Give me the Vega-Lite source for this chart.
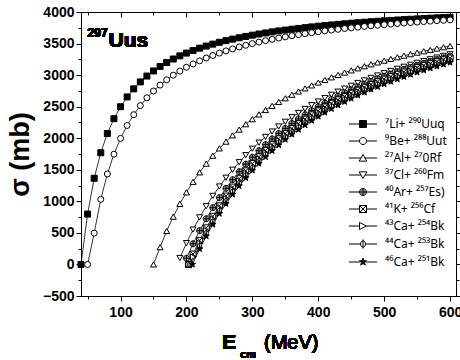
{
"$schema": "https://vega.github.io/schema/vega-lite/v6.json",
"width": 375, "height": 284,
"autosize": {"type": "none"},
"padding": {"left": 81, "top": 12, "right": 4, "bottom": 64},
"background": "white",
"config": {"view": {"stroke": "black", "strokeWidth": 1}, "font": "Liberation Sans"},
"data": {"values": [
{"s":"Li","e":40,"v":0},{"s":"Li","e":50,"v":798},{"s":"Li","e":60,"v":1365},{"s":"Li","e":70,"v":1770},{"s":"Li","e":80,"v":2074},{"s":"Li","e":90,"v":2310},{"s":"Li","e":100,"v":2499},{"s":"Li","e":110,"v":2654},{"s":"Li","e":120,"v":2782},{"s":"Li","e":130,"v":2892},{"s":"Li","e":140,"v":2985},{"s":"Li","e":150,"v":3066},{"s":"Li","e":160,"v":3137},{"s":"Li","e":170,"v":3199},{"s":"Li","e":180,"v":3255},{"s":"Li","e":190,"v":3305},{"s":"Li","e":200,"v":3349},{"s":"Li","e":210,"v":3390},{"s":"Li","e":220,"v":3427},{"s":"Li","e":230,"v":3460},{"s":"Li","e":240,"v":3491},{"s":"Li","e":250,"v":3520},{"s":"Li","e":260,"v":3546},{"s":"Li","e":270,"v":3570},{"s":"Li","e":280,"v":3592},{"s":"Li","e":290,"v":3613},{"s":"Li","e":300,"v":3633},{"s":"Li","e":310,"v":3651},{"s":"Li","e":320,"v":3668},{"s":"Li","e":330,"v":3685},{"s":"Li","e":340,"v":3700},{"s":"Li","e":350,"v":3714},{"s":"Li","e":360,"v":3727},{"s":"Li","e":370,"v":3740},{"s":"Li","e":380,"v":3752},{"s":"Li","e":390,"v":3764},{"s":"Li","e":400,"v":3775},{"s":"Li","e":410,"v":3785},{"s":"Li","e":420,"v":3795},{"s":"Li","e":430,"v":3804},{"s":"Li","e":440,"v":3813},{"s":"Li","e":450,"v":3822},{"s":"Li","e":460,"v":3830},{"s":"Li","e":470,"v":3838},{"s":"Li","e":480,"v":3846},{"s":"Li","e":490,"v":3853},{"s":"Li","e":500,"v":3860},{"s":"Li","e":510,"v":3866},{"s":"Li","e":520,"v":3873},{"s":"Li","e":530,"v":3879},{"s":"Li","e":540,"v":3885},{"s":"Li","e":550,"v":3891},{"s":"Li","e":560,"v":3896},{"s":"Li","e":570,"v":3902},{"s":"Li","e":580,"v":3907},{"s":"Li","e":590,"v":3912},{"s":"Li","e":600,"v":3916},
{"s":"Be","e":50,"v":0},{"s":"Be","e":60,"v":496},{"s":"Be","e":70,"v":1032},{"s":"Be","e":80,"v":1434},{"s":"Be","e":90,"v":1747},{"s":"Be","e":100,"v":1997},{"s":"Be","e":110,"v":2202},{"s":"Be","e":120,"v":2373},{"s":"Be","e":130,"v":2517},{"s":"Be","e":140,"v":2641},{"s":"Be","e":150,"v":2748},{"s":"Be","e":160,"v":2842},{"s":"Be","e":170,"v":2925},{"s":"Be","e":180,"v":2999},{"s":"Be","e":190,"v":3064},{"s":"Be","e":200,"v":3124},{"s":"Be","e":210,"v":3177},{"s":"Be","e":220,"v":3226},{"s":"Be","e":230,"v":3271},{"s":"Be","e":240,"v":3311},{"s":"Be","e":250,"v":3349},{"s":"Be","e":260,"v":3384},{"s":"Be","e":270,"v":3416},{"s":"Be","e":280,"v":3446},{"s":"Be","e":290,"v":3473},{"s":"Be","e":300,"v":3499},{"s":"Be","e":310,"v":3523},{"s":"Be","e":320,"v":3546},{"s":"Be","e":330,"v":3567},{"s":"Be","e":340,"v":3587},{"s":"Be","e":350,"v":3606},{"s":"Be","e":360,"v":3624},{"s":"Be","e":370,"v":3641},{"s":"Be","e":380,"v":3657},{"s":"Be","e":390,"v":3672},{"s":"Be","e":400,"v":3687},{"s":"Be","e":410,"v":3701},{"s":"Be","e":420,"v":3714},{"s":"Be","e":430,"v":3726},{"s":"Be","e":440,"v":3738},{"s":"Be","e":450,"v":3749},{"s":"Be","e":460,"v":3760},{"s":"Be","e":470,"v":3771},{"s":"Be","e":480,"v":3781},{"s":"Be","e":490,"v":3790},{"s":"Be","e":500,"v":3799},{"s":"Be","e":510,"v":3808},{"s":"Be","e":520,"v":3817},{"s":"Be","e":530,"v":3825},{"s":"Be","e":540,"v":3833},{"s":"Be","e":550,"v":3840},{"s":"Be","e":560,"v":3848},{"s":"Be","e":570,"v":3855},{"s":"Be","e":580,"v":3862},{"s":"Be","e":590,"v":3868},{"s":"Be","e":600,"v":3875},
{"s":"Al","e":150,"v":0},{"s":"Al","e":160,"v":274},{"s":"Al","e":170,"v":530},{"s":"Al","e":180,"v":757},{"s":"Al","e":190,"v":960},{"s":"Al","e":200,"v":1143},{"s":"Al","e":210,"v":1309},{"s":"Al","e":220,"v":1459},{"s":"Al","e":230,"v":1597},{"s":"Al","e":240,"v":1723},{"s":"Al","e":250,"v":1839},{"s":"Al","e":260,"v":1946},{"s":"Al","e":270,"v":2045},{"s":"Al","e":280,"v":2137},{"s":"Al","e":290,"v":2222},{"s":"Al","e":300,"v":2302},{"s":"Al","e":310,"v":2377},{"s":"Al","e":320,"v":2447},{"s":"Al","e":330,"v":2513},{"s":"Al","e":340,"v":2575},{"s":"Al","e":350,"v":2633},{"s":"Al","e":360,"v":2689},{"s":"Al","e":370,"v":2741},{"s":"Al","e":380,"v":2790},{"s":"Al","e":390,"v":2837},{"s":"Al","e":400,"v":2882},{"s":"Al","e":410,"v":2924},{"s":"Al","e":420,"v":2965},{"s":"Al","e":430,"v":3003},{"s":"Al","e":440,"v":3040},{"s":"Al","e":450,"v":3075},{"s":"Al","e":460,"v":3108},{"s":"Al","e":470,"v":3141},{"s":"Al","e":480,"v":3171},{"s":"Al","e":490,"v":3201},{"s":"Al","e":500,"v":3229},{"s":"Al","e":510,"v":3257},{"s":"Al","e":520,"v":3283},{"s":"Al","e":530,"v":3308},{"s":"Al","e":540,"v":3332},{"s":"Al","e":550,"v":3356},{"s":"Al","e":560,"v":3378},{"s":"Al","e":570,"v":3400},{"s":"Al","e":580,"v":3421},{"s":"Al","e":590,"v":3442},{"s":"Al","e":600,"v":3461},
{"s":"Cl","e":190,"v":102},{"s":"Cl","e":200,"v":338},{"s":"Cl","e":210,"v":552},{"s":"Cl","e":220,"v":746},{"s":"Cl","e":230,"v":923},{"s":"Cl","e":240,"v":1086},{"s":"Cl","e":250,"v":1235},{"s":"Cl","e":260,"v":1374},{"s":"Cl","e":270,"v":1501},{"s":"Cl","e":280,"v":1620},{"s":"Cl","e":290,"v":1731},{"s":"Cl","e":300,"v":1834},{"s":"Cl","e":310,"v":1930},{"s":"Cl","e":320,"v":2021},{"s":"Cl","e":330,"v":2106},{"s":"Cl","e":340,"v":2186},{"s":"Cl","e":350,"v":2261},{"s":"Cl","e":360,"v":2333},{"s":"Cl","e":370,"v":2400},{"s":"Cl","e":380,"v":2464},{"s":"Cl","e":390,"v":2524},{"s":"Cl","e":400,"v":2582},{"s":"Cl","e":410,"v":2637},{"s":"Cl","e":420,"v":2689},{"s":"Cl","e":430,"v":2738},{"s":"Cl","e":440,"v":2786},{"s":"Cl","e":450,"v":2831},{"s":"Cl","e":460,"v":2875},{"s":"Cl","e":470,"v":2916},{"s":"Cl","e":480,"v":2956},{"s":"Cl","e":490,"v":2994},{"s":"Cl","e":500,"v":3031},{"s":"Cl","e":510,"v":3066},{"s":"Cl","e":520,"v":3100},{"s":"Cl","e":530,"v":3132},{"s":"Cl","e":540,"v":3164},{"s":"Cl","e":550,"v":3194},{"s":"Cl","e":560,"v":3223},{"s":"Cl","e":570,"v":3251},{"s":"Cl","e":580,"v":3278},{"s":"Cl","e":590,"v":3305},{"s":"Cl","e":600,"v":3330},
{"s":"Ar","e":200,"v":98},{"s":"Ar","e":210,"v":327},{"s":"Ar","e":220,"v":535},{"s":"Ar","e":230,"v":724},{"s":"Ar","e":240,"v":899},{"s":"Ar","e":250,"v":1059},{"s":"Ar","e":260,"v":1206},{"s":"Ar","e":270,"v":1343},{"s":"Ar","e":280,"v":1470},{"s":"Ar","e":290,"v":1589},{"s":"Ar","e":300,"v":1699},{"s":"Ar","e":310,"v":1802},{"s":"Ar","e":320,"v":1899},{"s":"Ar","e":330,"v":1990},{"s":"Ar","e":340,"v":2076},{"s":"Ar","e":350,"v":2156},{"s":"Ar","e":360,"v":2233},{"s":"Ar","e":370,"v":2305},{"s":"Ar","e":380,"v":2373},{"s":"Ar","e":390,"v":2438},{"s":"Ar","e":400,"v":2500},{"s":"Ar","e":410,"v":2558},{"s":"Ar","e":420,"v":2614},{"s":"Ar","e":430,"v":2667},{"s":"Ar","e":440,"v":2718},{"s":"Ar","e":450,"v":2766},{"s":"Ar","e":460,"v":2813},{"s":"Ar","e":470,"v":2857},{"s":"Ar","e":480,"v":2900},{"s":"Ar","e":490,"v":2941},{"s":"Ar","e":500,"v":2980},{"s":"Ar","e":510,"v":3017},{"s":"Ar","e":520,"v":3054},{"s":"Ar","e":530,"v":3089},{"s":"Ar","e":540,"v":3122},{"s":"Ar","e":550,"v":3154},{"s":"Ar","e":560,"v":3186},{"s":"Ar","e":570,"v":3216},{"s":"Ar","e":580,"v":3245},{"s":"Ar","e":590,"v":3273},{"s":"Ar","e":600,"v":3300},
{"s":"K","e":203,"v":0},{"s":"K","e":210,"v":165},{"s":"K","e":220,"v":382},{"s":"K","e":230,"v":580},{"s":"K","e":240,"v":762},{"s":"K","e":250,"v":929},{"s":"K","e":260,"v":1083},{"s":"K","e":270,"v":1226},{"s":"K","e":280,"v":1359},{"s":"K","e":290,"v":1483},{"s":"K","e":300,"v":1598},{"s":"K","e":310,"v":1706},{"s":"K","e":320,"v":1807},{"s":"K","e":330,"v":1902},{"s":"K","e":340,"v":1991},{"s":"K","e":350,"v":2076},{"s":"K","e":360,"v":2155},{"s":"K","e":370,"v":2231},{"s":"K","e":380,"v":2302},{"s":"K","e":390,"v":2370},{"s":"K","e":400,"v":2434},{"s":"K","e":410,"v":2495},{"s":"K","e":420,"v":2553},{"s":"K","e":430,"v":2609},{"s":"K","e":440,"v":2662},{"s":"K","e":450,"v":2713},{"s":"K","e":460,"v":2761},{"s":"K","e":470,"v":2807},{"s":"K","e":480,"v":2852},{"s":"K","e":490,"v":2895},{"s":"K","e":500,"v":2936},{"s":"K","e":510,"v":2975},{"s":"K","e":520,"v":3013},{"s":"K","e":530,"v":3049},{"s":"K","e":540,"v":3084},{"s":"K","e":550,"v":3118},{"s":"K","e":560,"v":3151},{"s":"K","e":570,"v":3182},{"s":"K","e":580,"v":3212},{"s":"K","e":590,"v":3242},{"s":"K","e":600,"v":3270},
{"s":"Ca43","e":205,"v":0},{"s":"Ca43","e":210,"v":118},{"s":"Ca43","e":220,"v":337},{"s":"Ca43","e":230,"v":537},{"s":"Ca43","e":240,"v":720},{"s":"Ca43","e":250,"v":889},{"s":"Ca43","e":260,"v":1044},{"s":"Ca43","e":270,"v":1189},{"s":"Ca43","e":280,"v":1322},{"s":"Ca43","e":290,"v":1447},{"s":"Ca43","e":300,"v":1563},{"s":"Ca43","e":310,"v":1672},{"s":"Ca43","e":320,"v":1774},{"s":"Ca43","e":330,"v":1870},{"s":"Ca43","e":340,"v":1960},{"s":"Ca43","e":350,"v":2045},{"s":"Ca43","e":360,"v":2126},{"s":"Ca43","e":370,"v":2202},{"s":"Ca43","e":380,"v":2274},{"s":"Ca43","e":390,"v":2342},{"s":"Ca43","e":400,"v":2407},{"s":"Ca43","e":410,"v":2468},{"s":"Ca43","e":420,"v":2527},{"s":"Ca43","e":430,"v":2583},{"s":"Ca43","e":440,"v":2637},{"s":"Ca43","e":450,"v":2688},{"s":"Ca43","e":460,"v":2737},{"s":"Ca43","e":470,"v":2784},{"s":"Ca43","e":480,"v":2828},{"s":"Ca43","e":490,"v":2872},{"s":"Ca43","e":500,"v":2913},{"s":"Ca43","e":510,"v":2953},{"s":"Ca43","e":520,"v":2991},{"s":"Ca43","e":530,"v":3027},{"s":"Ca43","e":540,"v":3063},{"s":"Ca43","e":550,"v":3097},{"s":"Ca43","e":560,"v":3130},{"s":"Ca43","e":570,"v":3161},{"s":"Ca43","e":580,"v":3192},{"s":"Ca43","e":590,"v":3222},{"s":"Ca43","e":600,"v":3250},
{"s":"Ca44","e":207,"v":0},{"s":"Ca44","e":220,"v":291},{"s":"Ca44","e":230,"v":493},{"s":"Ca44","e":240,"v":678},{"s":"Ca44","e":250,"v":848},{"s":"Ca44","e":260,"v":1005},{"s":"Ca44","e":270,"v":1151},{"s":"Ca44","e":280,"v":1286},{"s":"Ca44","e":290,"v":1411},{"s":"Ca44","e":300,"v":1529},{"s":"Ca44","e":310,"v":1638},{"s":"Ca44","e":320,"v":1741},{"s":"Ca44","e":330,"v":1838},{"s":"Ca44","e":340,"v":1929},{"s":"Ca44","e":350,"v":2015},{"s":"Ca44","e":360,"v":2096},{"s":"Ca44","e":370,"v":2172},{"s":"Ca44","e":380,"v":2245},{"s":"Ca44","e":390,"v":2314},{"s":"Ca44","e":400,"v":2379},{"s":"Ca44","e":410,"v":2441},{"s":"Ca44","e":420,"v":2501},{"s":"Ca44","e":430,"v":2557},{"s":"Ca44","e":440,"v":2611},{"s":"Ca44","e":450,"v":2663},{"s":"Ca44","e":460,"v":2712},{"s":"Ca44","e":470,"v":2759},{"s":"Ca44","e":480,"v":2805},{"s":"Ca44","e":490,"v":2848},{"s":"Ca44","e":500,"v":2890},{"s":"Ca44","e":510,"v":2930},{"s":"Ca44","e":520,"v":2968},{"s":"Ca44","e":530,"v":3005},{"s":"Ca44","e":540,"v":3041},{"s":"Ca44","e":550,"v":3075},{"s":"Ca44","e":560,"v":3108},{"s":"Ca44","e":570,"v":3140},{"s":"Ca44","e":580,"v":3171},{"s":"Ca44","e":590,"v":3201},{"s":"Ca44","e":600,"v":3230},
{"s":"Ca46","e":209,"v":0},{"s":"Ca46","e":220,"v":246},{"s":"Ca46","e":230,"v":448},{"s":"Ca46","e":240,"v":634},{"s":"Ca46","e":250,"v":805},{"s":"Ca46","e":260,"v":963},{"s":"Ca46","e":270,"v":1110},{"s":"Ca46","e":280,"v":1245},{"s":"Ca46","e":290,"v":1372},{"s":"Ca46","e":300,"v":1490},{"s":"Ca46","e":310,"v":1600},{"s":"Ca46","e":320,"v":1704},{"s":"Ca46","e":330,"v":1801},{"s":"Ca46","e":340,"v":1892},{"s":"Ca46","e":350,"v":1978},{"s":"Ca46","e":360,"v":2060},{"s":"Ca46","e":370,"v":2137},{"s":"Ca46","e":380,"v":2210},{"s":"Ca46","e":390,"v":2279},{"s":"Ca46","e":400,"v":2345},{"s":"Ca46","e":410,"v":2408},{"s":"Ca46","e":420,"v":2467},{"s":"Ca46","e":430,"v":2524},{"s":"Ca46","e":440,"v":2578},{"s":"Ca46","e":450,"v":2630},{"s":"Ca46","e":460,"v":2680},{"s":"Ca46","e":470,"v":2727},{"s":"Ca46","e":480,"v":2773},{"s":"Ca46","e":490,"v":2816},{"s":"Ca46","e":500,"v":2858},{"s":"Ca46","e":510,"v":2898},{"s":"Ca46","e":520,"v":2937},{"s":"Ca46","e":530,"v":2974},{"s":"Ca46","e":540,"v":3010},{"s":"Ca46","e":550,"v":3045},{"s":"Ca46","e":560,"v":3078},{"s":"Ca46","e":570,"v":3110},{"s":"Ca46","e":580,"v":3141},{"s":"Ca46","e":590,"v":3171},{"s":"Ca46","e":600,"v":3200}
]},
"layer": [
{"mark": {"type": "line", "color": "black", "strokeWidth": 0.8},
 "encoding": {
  "x": {"field": "e", "type": "quantitative", "scale": {"domain": [40, 609], "nice": false, "zero": false},
   "axis": {"orient": "bottom", "title": null, "grid": false,
    "values": [50,100,150,200,250,300,350,400,450,500,550,600],
    "format": "d", "labelExpr": "datum.value % 100 === 0 ? datum.label : ''",
    "labelFont": "Liberation Sans", "labelFontWeight": "bold", "labelFontSize": 14, "labelColor": "black",
    "labelOverlap": false, "labelPadding": 4, "domainColor": "black", "tickColor": "black",
    "tickSize": {"condition": {"test": "datum.value % 100 === 0", "value": 5}, "value": 3}}},
  "y": {"field": "v", "type": "quantitative", "scale": {"domain": [-500, 4000], "nice": false, "zero": false},
   "axis": {"orient": "left", "title": "σ (mb)", "titleFont": "Liberation Sans", "titleFontSize": 27, "titleFontWeight": "bold", "titleColor": "black", "titlePadding": 8, "grid": false,
    "values": [-500,-250,0,250,500,750,1000,1250,1500,1750,2000,2250,2500,2750,3000,3250,3500,3750,4000],
    "format": "d", "labelExpr": "datum.value % 500 === 0 ? datum.label : ''",
    "labelFont": "Liberation Sans", "labelFontWeight": "bold", "labelFontSize": 14, "labelColor": "black",
    "labelOverlap": false, "labelPadding": 2, "domainColor": "black", "tickColor": "black",
    "tickSize": {"condition": {"test": "datum.value % 500 === 0", "value": 5}, "value": 3}}},
  "detail": {"field": "s", "type": "nominal"}
 }},
{"mark": {"type": "point", "filled": true, "stroke": "black", "strokeWidth": 1, "size": 36, "opacity": 1},
 "encoding": {
  "x": {"field": "e", "type": "quantitative", "scale": {"domain": [40, 609], "nice": false, "zero": false}, "axis": null},
  "y": {"field": "v", "type": "quantitative", "scale": {"domain": [-500, 4000], "nice": false, "zero": false}, "axis": null},
  "shape": {"field": "s", "type": "nominal", "legend": null, "scale": {"domain": ["Li","Be","Al","Cl","Ar","K","Ca43","Ca44","Ca46"],
   "range": ["square","circle","triangle-up","triangle-down",
    "M-1,0A1,1,0,1,1,1,0A1,1,0,1,1,-1,0ZM-1,0L1,0M0,-1L0,1",
    "M-1,-1L1,-1L1,1L-1,1ZM-1,-1L1,1M1,-1L-1,1",
    "triangle-right",
    "M-0.7,0A0.7,0.9,0,1,1,0.7,0A0.7,0.9,0,1,1,-0.7,0ZM0,-1.3L0,1.3",
    "M0,-1.1L0.26,-0.36L1.05,-0.34L0.42,0.14L0.65,0.89L0,0.44L-0.65,0.89L-0.42,0.14L-1.05,-0.34L-0.26,-0.36Z"]}},
  "fill": {"field": "s", "type": "nominal", "legend": null, "scale": {"domain": ["Li","Be","Al","Cl","Ar","K","Ca43","Ca44","Ca46"],
   "range": ["black","white","white","white","#999999","white","white","white","black"]}}
 }},
{"transform": [{"filter": "false"}],
 "mark": {"type": "point", "filled": true, "stroke": "black", "strokeWidth": 1},
 "encoding": {
  "x": {"field": "e", "type": "quantitative", "scale": {"domain": [40, 609], "nice": false, "zero": false},
   "axis": {"orient": "top", "title": null, "labels": false, "grid": false, "domainColor": "black", "tickColor": "black",
    "values": [50,100,150,200,250,300,350,400,450,500,550,600],
    "tickSize": {"condition": {"test": "datum.value % 100 === 0", "value": -5}, "value": -3}}},
  "y": {"field": "v", "type": "quantitative", "scale": {"domain": [-500, 4000], "nice": false, "zero": false},
   "axis": {"orient": "right", "title": null, "labels": false, "grid": false, "domainColor": "black", "tickColor": "black",
    "values": [-500,-250,0,250,500,750,1000,1250,1500,1750,2000,2250,2500,2750,3000,3250,3500,3750,4000],
    "tickSize": {"condition": {"test": "datum.value % 500 === 0", "value": 5}, "value": 3}}},
  "shape": {"field": "s", "type": "nominal",
   "scale": {"domain": ["Li","Be","Al","Cl","Ar","K","Ca43","Ca44","Ca46"],
   "range": ["M-1,-1L1,-1L1,1L-1,1ZM-4,0L-1,0M1,0L4,0",
    "M-1,0A1,1,0,1,1,1,0A1,1,0,1,1,-1,0ZM-4,0L-1,0M1,0L4,0",
    "M0,-1L1.1,0.9L-1.1,0.9ZM-4,0L-0.55,0M0.55,0L4,0",
    "M-1.1,-0.9L1.1,-0.9L0,1ZM-4,0L-0.55,0M0.55,0L4,0",
    "M-1,0A1,1,0,1,1,1,0A1,1,0,1,1,-1,0ZM-1,0L1,0M0,-1L0,1M-4,0L-1,0M1,0L4,0",
    "M-1,-1L1,-1L1,1L-1,1ZM-1,-1L1,1M1,-1L-1,1M-4,0L-1,0M1,0L4,0",
    "M-1,-1L1,0L-1,1ZM-4,0L-1,0M1,0L4,0",
    "M-0.7,0A0.7,0.9,0,1,1,0.7,0A0.7,0.9,0,1,1,-0.7,0ZM0,-1.3L0,1.3M-4,0L-0.7,0M0.7,0L4,0",
    "M0,-1.1L0.26,-0.36L1.05,-0.34L0.42,0.14L0.65,0.89L0,0.44L-0.65,0.89L-0.42,0.14L-1.05,-0.34L-0.26,-0.36ZM-4,0L-0.9,0M0.9,0L4,0"]},
   "legend": {"orient": "none", "legendX": 276, "legendY": 106, "title": null, "padding": 0,
    "labelFont": "Noto Sans", "labelFontSize": 12, "labelColor": "black", "labelOffset": 16,
    "symbolSize": 49, "symbolStrokeColor": "black", "symbolStrokeWidth": 1, "symbolOpacity": 1, "rowPadding": 5,
    "encode": {"symbols": {"update": {"stroke": {"value": "black"}, "strokeWidth": {"value": 1}, "opacity": {"value": 1}}}},
    "labelExpr": "datum.label == 'Li' ? '⁷Li+ ²⁹⁰Uuq' : datum.label == 'Be' ? '⁹Be+ ²⁸⁸Uut' : datum.label == 'Al' ? '²⁷Al+ ²⁷0Rf' : datum.label == 'Cl' ? '³⁷Cl+ ²⁶⁰Fm' : datum.label == 'Ar' ? '⁴⁰Ar+ ²⁵⁷Es)' : datum.label == 'K' ? '⁴¹K+ ²⁵⁶Cf' : datum.label == 'Ca43' ? '⁴³Ca+ ²⁵⁴Bk' : datum.label == 'Ca44' ? '⁴⁴Ca+ ²⁵³Bk' : '⁴⁶Ca+ ²⁵¹Bk'"}},
  "fill": {"field": "s", "type": "nominal",
   "scale": {"domain": ["Li","Be","Al","Cl","Ar","K","Ca43","Ca44","Ca46"],
   "range": ["black","white","white","white","#999999","white","white","white","black"]},
   "legend": {"orient": "none", "legendX": 276, "legendY": 106, "title": null, "padding": 0,
    "labelFont": "Noto Sans", "labelFontSize": 12, "labelColor": "black", "labelOffset": 16,
    "symbolSize": 49, "symbolStrokeColor": "black", "symbolStrokeWidth": 1, "symbolOpacity": 1, "rowPadding": 5,
    "encode": {"symbols": {"update": {"stroke": {"value": "black"}, "strokeWidth": {"value": 1}, "opacity": {"value": 1}}}},
    "labelExpr": "datum.label == 'Li' ? '⁷Li+ ²⁹⁰Uuq' : datum.label == 'Be' ? '⁹Be+ ²⁸⁸Uut' : datum.label == 'Al' ? '²⁷Al+ ²⁷0Rf' : datum.label == 'Cl' ? '³⁷Cl+ ²⁶⁰Fm' : datum.label == 'Ar' ? '⁴⁰Ar+ ²⁵⁷Es)' : datum.label == 'K' ? '⁴¹K+ ²⁵⁶Cf' : datum.label == 'Ca43' ? '⁴³Ca+ ²⁵⁴Bk' : datum.label == 'Ca44' ? '⁴⁴Ca+ ²⁵³Bk' : '⁴⁶Ca+ ²⁵¹Bk'"}}
 }},
{"mark": {"type": "text", "text": "297", "font": "Liberation Sans", "fontWeight": "bold", "fontSize": 12, "align": "center", "baseline": "middle", "color": "black"},
 "encoding": {"x": {"datum": 65.2, "type": "quantitative", "scale": {"domain": [40, 609], "nice": false, "zero": false}, "axis": null},
  "y": {"datum": 3667, "type": "quantitative", "scale": {"domain": [-500, 4000], "nice": false, "zero": false}, "axis": null}}},
{"mark": {"type": "text", "text": "Uus", "font": "Liberation Sans", "fontWeight": "bold", "fontSize": 21, "align": "center", "baseline": "middle", "color": "black"},
 "encoding": {"x": {"datum": 111.8, "type": "quantitative", "scale": {"domain": [40, 609], "nice": false, "zero": false}, "axis": null},
  "y": {"datum": 3540, "type": "quantitative", "scale": {"domain": [-500, 4000], "nice": false, "zero": false}, "axis": null}}},
{"mark": {"type": "text", "text": "E", "font": "Liberation Sans", "fontWeight": "bold", "fontSize": 21, "align": "center", "baseline": "middle", "color": "black"},
 "encoding": {"x": {"datum": 264.6, "type": "quantitative", "scale": {"domain": [40, 609], "nice": false, "zero": false}, "axis": null},
  "y": {"datum": -1237, "type": "quantitative", "scale": {"domain": [-500, 4000], "nice": false, "zero": false}, "axis": null}}},
{"mark": {"type": "text", "text": "cm", "font": "Liberation Sans", "fontWeight": "bold", "fontSize": 11, "align": "center", "baseline": "middle", "color": "black"},
 "encoding": {"x": {"datum": 293.4, "type": "quantitative", "scale": {"domain": [40, 609], "nice": false, "zero": false}, "axis": null},
  "y": {"datum": -1435, "type": "quantitative", "scale": {"domain": [-500, 4000], "nice": false, "zero": false}, "axis": null}}},
{"mark": {"type": "text", "text": "(MeV)", "font": "Liberation Sans", "fontWeight": "normal", "fontSize": 20, "align": "center", "baseline": "middle", "color": "black"},
 "encoding": {"x": {"datum": 359, "type": "quantitative", "scale": {"domain": [40, 609], "nice": false, "zero": false}, "axis": null},
  "y": {"datum": -1237, "type": "quantitative", "scale": {"domain": [-500, 4000], "nice": false, "zero": false}, "axis": null}}}
],
"resolve": {"scale": {"shape": "independent", "fill": "independent"}, "axis": {"x": "independent", "y": "independent"}}
}
